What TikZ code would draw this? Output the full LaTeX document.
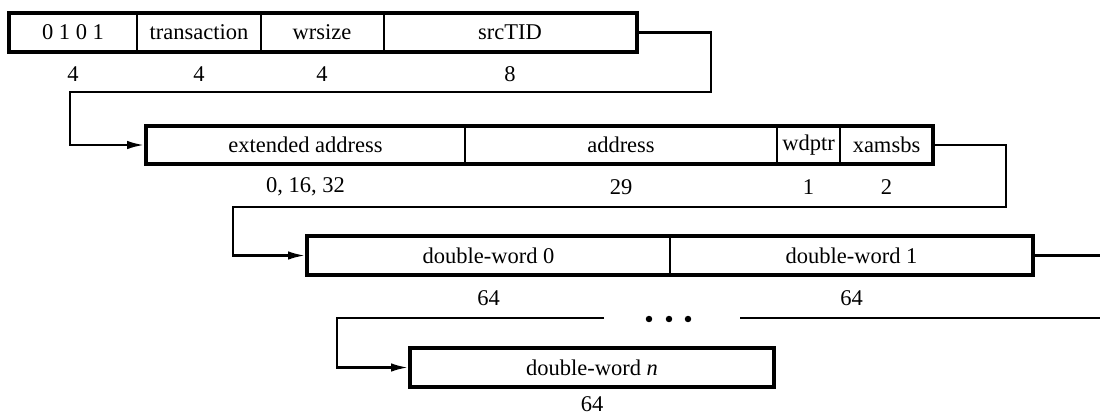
\documentclass[tikz,border=0pt]{standalone}
\usepackage{fontspec}
\setmainfont{Liberation Serif}
\usetikzlibrary{arrows.meta}
\begin{document}
\begin{tikzpicture}[x=0.025cm,y=-0.025cm,
  every node/.style={font=\fontsize{16}{19}\selectfont, inner sep=0pt},
  rowbox/.style={draw, line width=2.8pt, fill=none},
  divider/.style={line width=1.1pt},
  conn/.style={line width=1.6pt},
  arr/.style={conn, -{Latex[length=12pt,width=6pt]}},
  dot/.style={circle, fill, minimum size=4.6pt, inner sep=0pt}]
\useasboundingbox (0,0) rectangle (1100,417);
% row 1
\node[rowbox, minimum width=628*0.025cm, minimum height=39*0.025cm] (r1) at (323,32.5) {};
\draw[divider] (137,13) -- (137,52) (261,13) -- (261,52) (384,13) -- (384,52);
\node (f11) at (73,32.5) {0 1 0 1};
\node (f12) at (199,32.5) {transaction};
\node (f13) at (322,32.5) {wrsize};
\node (f14) at (510,32.5) {srcTID};
\node (n11) at (73,74) {4};
\node (n12) at (199,74) {4};
\node (n13) at (322,74) {4};
\node (n14) at (510,74) {8};
% row 2
\node[rowbox, minimum width=787*0.025cm, minimum height=38*0.025cm] (r2) at (539.5,145) {};
\draw[divider] (465,126) -- (465,164) (777,126) -- (777,164) (840,126) -- (840,164);
\node (f21) at (305.5,145) {extended address};
\node (f22) at (621,145) {address};
\node (f23) at (808.5,145) {wdptr};
\node (f24) at (886.5,145) {xamsbs};
\node (n21) at (305.5,187) {0, 16, 32};
\node (n22) at (621,187) {29};
\node (n23) at (808.5,187) {1};
\node (n24) at (886.5,187) {2};
% row 3
\node[rowbox, minimum width=726*0.025cm, minimum height=39*0.025cm] (r3) at (670,255.5) {};
\draw[divider] (670,236) -- (670,275);
\node (f31) at (488.5,255.5) {double-word 0};
\node (f32) at (851.5,255.5) {double-word 1};
\node (n31) at (488.5,298) {64};
\node (n32) at (851.5,298) {64};
% dots
\node[dot] (d1) at (649,319) {};
\node[dot] (d2) at (669,319) {};
\node[dot] (d3) at (688,319) {};
% row 4
\node[rowbox, minimum width=364*0.025cm, minimum height=39*0.025cm] (r4) at (592,367.5) {};
\node (f41) at (592,367.5) {double-word \textit{n}};
\node (n41) at (592,404) {64};
% connectors
\coordinate (c1) at (711,92);
\coordinate (c2) at (70,92);
\draw[arr] (r1.east) -| (c1) -- (c2) |- (r2.west);
\coordinate (c3) at (1006,207);
\coordinate (c4) at (233,207);
\draw[arr] (r2.east) -| (c3) -- (c4) |- (r3.west);
\coordinate (c5) at (1100,255.5);
\draw[conn] (r3.east) -- (c5);
\coordinate (c6) at (604,318);
\coordinate (c7) at (337,318);
\draw[arr] (c6) -- (c7) |- (r4.west);
\coordinate (c8) at (740,318);
\coordinate (c9) at (1100,318);
\draw[conn] (c8) -- (c9);
\end{tikzpicture}
\end{document}
